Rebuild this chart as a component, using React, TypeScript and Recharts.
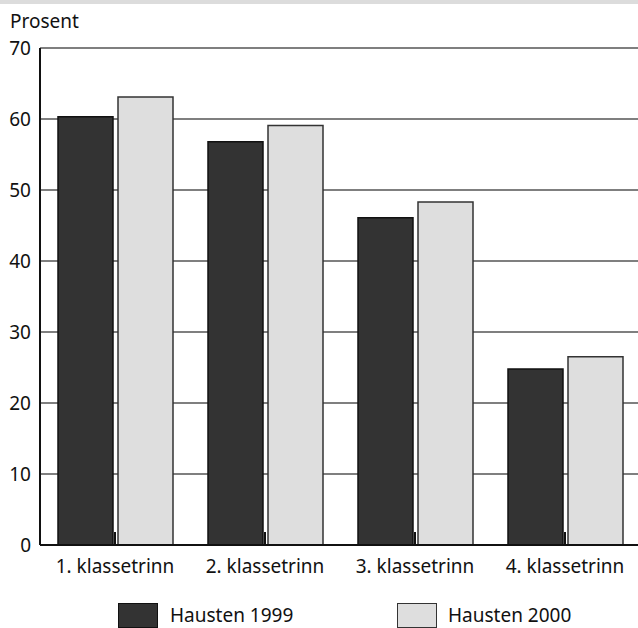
import React from "react";
import { BarChart, Bar, XAxis, YAxis, CartesianGrid } from "recharts";

const categories = ["1. klassetrinn", "2. klassetrinn", "3. klassetrinn", "4. klassetrinn"];
const hausten1999 = [60.3, 56.8, 46.1, 24.8];
const hausten2000 = [63.1, 59.1, 48.3, 26.5];
const yTicks = [0, 10, 20, 30, 40, 50, 60, 70];

const data = categories.map((c, i) => ({ name: c, h1999: hausten1999[i], h2000: hausten2000[i] }));

const FONT = "'Noto Sans', 'Open Sans', sans-serif";

const XTick = (props: any) => {
  const { x, y, payload } = props;
  return (
    <g>
      <line x1={x} x2={x} y1={y} y2={y - 13} stroke="#111" strokeWidth={2} />
      <text x={x} y={y + 28} textAnchor="middle" fill="#111" fontSize={19} fontFamily={FONT}>
        {payload.value}
      </text>
    </g>
  );
};

export default function App() {
  return (
    <div style={{ position: "absolute", left: 0, top: 0, width: 638, height: 628, overflow: "hidden", background: "#fff", fontFamily: FONT }}>
      <div style={{ position: "absolute", left: 0, top: 0, width: 638, height: 4, background: "#dcdcdc" }} />
      <div style={{ position: "absolute", left: 10, top: 12, fontSize: 19, lineHeight: "19px", color: "#111" }}>Prosent</div>
      <BarChart
        width={640}
        height={628}
        data={data}
        margin={{ top: 48, right: 0, left: 0, bottom: 53 }}
        barCategoryGap="12%"
        barGap={5}
      >
        <CartesianGrid vertical={false} stroke="#555" strokeWidth={1.5} />
        <XAxis
          dataKey="name"
          height={30}
          tick={<XTick />}
          tickLine={false}
          tickSize={0}
          tickMargin={0}
          axisLine={{ stroke: "#111", strokeWidth: 2 }}
          interval={0}
        />
        <YAxis
          width={40}
          domain={[0, 70]}
          ticks={yTicks}
          tickLine={false}
          tickSize={0}
          tickMargin={9}
          axisLine={{ stroke: "#111", strokeWidth: 2 }}
          tick={{ fill: "#111", fontSize: 19, fontFamily: FONT }}
        />
        <Bar dataKey="h1999" fill="#333333" stroke="#111" strokeWidth={1.5} isAnimationActive={false} />
        <Bar dataKey="h2000" fill="#dedede" stroke="#333" strokeWidth={1.5} isAnimationActive={false} />
      </BarChart>
      <div style={{ position: "absolute", left: 118, top: 603, width: 38, height: 23, background: "#333", border: "1px solid #111" }} />
      <div style={{ position: "absolute", left: 170, top: 606, fontSize: 19, color: "#111", lineHeight: "19px" }}>Hausten 1999</div>
      <div style={{ position: "absolute", left: 397, top: 603, width: 38, height: 23, background: "#dedede", border: "1px solid #333" }} />
      <div style={{ position: "absolute", left: 448, top: 606, fontSize: 19, color: "#111", lineHeight: "19px" }}>Hausten 2000</div>
    </div>
  );
}
